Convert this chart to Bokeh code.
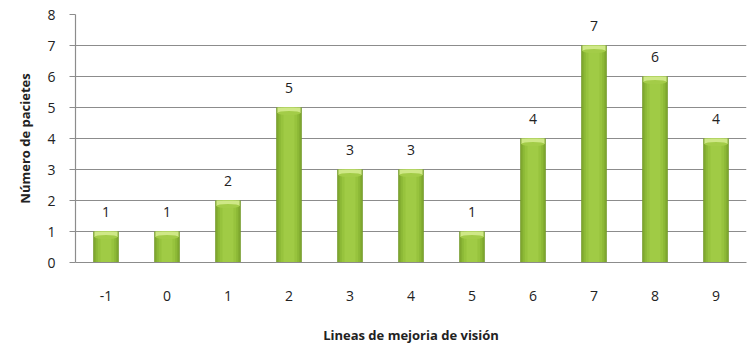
from bokeh.plotting import figure
from bokeh.models import ColumnDataSource
from bokeh.core.properties import value
from bokeh.embed import file_html
from bokeh.resources import INLINE

categories = ["-1", "0", "1", "2", "3", "4", "5", "6", "7", "8", "9"]
counts = [1, 1, 2, 5, 3, 3, 1, 4, 7, 6, 4]
y_ticks = [0, 1, 2, 3, 4, 5, 6, 7, 8]

src = ColumnDataSource(dict(x=categories, top=counts, lbl=[str(c) for c in counts],
                            cap=[c - 0.18 for c in counts]))

p = figure(x_range=categories, y_range=(0, 8), width=756, height=349,
           output_backend="svg", toolbar_location=None,
           min_border_left=75, min_border_right=10, min_border_top=14, min_border_bottom=87)
p.outline_line_color = None
p.background_fill_color = "white"

# gradient-like bars (layers from dark edges to light centre)
layers = [(0.42, "#739a28"), (0.39, "#80a92f"), (0.34, "#8cb836"), (0.27, "#97c33d"), (0.18, "#a0cb45")]
for w, c in layers:
    p.vbar(x="x", top="top", bottom=0, width=w, source=src, fill_color=c, line_color=None)
# top highlight
p.vbar(x="x", top="top", bottom="cap", width=0.38, source=src, fill_color="#cfe887", line_color=None)
p.ellipse(x="x", y="cap", width=0.38, height=0.14, source=src, fill_color="#a3cc48", line_color=None)

p.text(x="x", y="top", text="lbl", source=src, text_align="center", text_baseline="alphabetic",
       y_offset=-20, text_font=value("Open Sans"), text_font_size="14px", text_color="#222222")

p.xgrid.grid_line_color = None
p.ygrid.grid_line_color = "#8c8c8c"
p.ygrid.grid_line_width = 1.2
p.ygrid.ticker = y_ticks

p.yaxis.ticker = y_ticks
p.yaxis.axis_line_color = "#8c8c8c"
p.yaxis.axis_line_width = 1.2
p.yaxis.major_tick_line_color = "#8c8c8c"
p.yaxis.major_tick_out = 6
p.yaxis.major_tick_in = 0
p.yaxis.minor_tick_line_color = None
p.yaxis.major_label_standoff = 14
p.yaxis.major_label_text_font = "Open Sans"
p.yaxis.major_label_text_font_size = "14px"
p.yaxis.major_label_text_color = "#222222"
p.yaxis.axis_label = "Número de pacietes"
p.yaxis.axis_label_text_font = "Open Sans"
p.yaxis.axis_label_text_font_style = "bold"
p.yaxis.axis_label_text_font_size = "13px"
p.yaxis.axis_label_text_color = "#222222"
p.yaxis.axis_label_standoff = 10

p.xaxis.axis_line_color = "#8c8c8c"
p.xaxis.axis_line_width = 1.2
p.xaxis.major_tick_line_color = None
p.xaxis.major_tick_out = 0
p.xaxis.major_label_standoff = 28
p.xaxis.major_label_text_font = "Open Sans"
p.xaxis.major_label_text_font_size = "14px"
p.xaxis.major_label_text_color = "#222222"
p.xaxis.axis_label = "Lineas de mejoria de visión"
p.xaxis.axis_label_text_font = "Open Sans"
p.xaxis.axis_label_text_font_style = "bold"
p.xaxis.axis_label_text_font_size = "13px"
p.xaxis.axis_label_text_color = "#222222"
p.xaxis.axis_label_standoff = 22

open("out.html", "w").write(file_html(p, INLINE))
